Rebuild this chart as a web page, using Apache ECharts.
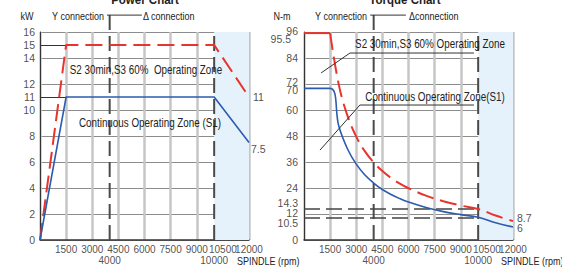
<!DOCTYPE html>
<html>
<head>
<meta charset="utf-8">
<script src="https://cdn.jsdelivr.net/npm/echarts@6/dist/echarts.min.js"></script>
<style>
html, body { margin: 0; padding: 0; background: #fff; }
#main { width: 562px; height: 274px; }
</style>
</head>
<body>
<div id="main"></div>
<script>
var speedTicks = [1500, 3000, 4500, 6000, 7500, 9000, 10500, 12000];
var speedMarks = [4000, 10000];
var powerTicks = [0, 2, 4, 6, 8, 10, 11, 12, 14, 15, 16];
var torqueTicks = [0, 10.5, 12, 14.3, 24, 36, 48, 60, 70, 72, 84, 95.5, 96];

var powerS2 = [[0, 0], [1500, 15], [10000, 15], [12000, 11]];
var powerS1 = [[0, 0], [1500, 11], [10000, 11], [12000, 7.5]];
var powerEnds = [[12000, 11], [12000, 7.5]];

var torqueS2Flat = [[0, 95.5], [1500, 95.5]];
var torqueS2 = [[1500, 95.5], [2000, 71.6], [2500, 57.3], [3000, 47.7], [3500, 40.9], [4000, 35.8],
    [4500, 31.8], [5000, 28.6], [5500, 26.0], [6000, 23.9], [7000, 20.5], [8000, 17.9],
    [9000, 15.9], [10000, 14.3], [11000, 11.3], [12000, 8.7]];
var torqueS1 = [[0, 70], [1500, 70], [2000, 52.5], [2500, 42], [3000, 35], [3500, 30], [4000, 26.3],
    [4500, 23.3], [5000, 21], [5500, 19.1], [6000, 17.5], [7000, 15], [8000, 13.1],
    [9000, 11.7], [10000, 10.5], [11000, 8.0], [12000, 6]];
var torqueEnds = [[12000, 8.7], [12000, 6]];
var torqueRefs = [14.3, 10.5];

var FONT = '"Liberation Sans", Arial, sans-serif';
var RED = '#e8342c', BLUE = '#2b5cad', INK = '#222';

// label nudges for crowded tick labels
var torqueNudge = { '96': [0, -1], '95.5': [-7, 6], '72': [0, -2], '70': [0, 2], '14.3': [0, -6], '12': [0, -1], '10.5': [0, 6] };

function labelSeries(idx, pts, pos, dist, size, fmt, offs) {
    return {
        type: 'scatter', xAxisIndex: idx, yAxisIndex: idx, symbolSize: 0, silent: true, z: 10,
        data: pts.map(function(p, i) {
            return { value: p, label: { offset: offs ? offs(p, i) : [0, 0] } };
        }),
        label: {
            show: true, position: pos, distance: dist, color: INK, fontSize: size, fontFamily: FONT,
            formatter: fmt
        }
    };
}

function yTicks(idx, ticks, nudge, dist) {
    return labelSeries(idx, ticks.map(function(v) { return [0, v]; }), 'left', dist, 10.5,
        function(p) { return p.value[1]; },
        function(p) { return nudge[p[1]] || [0, 0]; });
}

function xTicks(idx, ticks, dist) {
    return labelSeries(idx, ticks.map(function(v) { return [v, 0]; }), 'bottom', dist, 10,
        function(p) { return p.value[0]; });
}

function endLabels(idx, pts, offs) {
    return labelSeries(idx, pts, 'right', 4, 10.5,
        function(p) { return p.value[1]; },
        function(p, i) { return offs[i]; });
}

function dashV(idx, x, top) {
    return {
        type: 'line', xAxisIndex: idx, yAxisIndex: idx, clip: false, symbol: 'none', silent: true, z: 3,
        data: [[x, 0], [x, top]],
        lineStyle: { color: '#4a4a4a', width: 2, type: [15, 6] }
    };
}

function pointer(idx, coords) {
    return {
        type: 'lines', coordinateSystem: 'cartesian2d', xAxisIndex: idx, yAxisIndex: idx,
        polyline: true, clip: false, silent: true, z: 6,
        symbol: ['none', 'arrow'], symbolSize: 6,
        lineStyle: { color: '#333', width: 1, opacity: 1 },
        data: [{ coords: coords }]
    };
}

function xAxisOpt(idx) {
    return {
        type: 'value', gridIndex: idx, min: 0, max: 12000, interval: 1500,
        axisLine: { lineStyle: { color: '#333', width: 1.5 } },
        axisTick: { show: false },
        axisLabel: { show: false },
        splitLine: { lineStyle: { color: '#c6c6c6', width: 2.5 } }
    };
}

function yAxisOpt(idx, max, step) {
    return {
        type: 'value', gridIndex: idx, min: 0, max: max, interval: step,
        axisLine: { show: true, lineStyle: { color: '#333', width: 1 } },
        axisTick: { show: false },
        axisLabel: { show: false },
        splitLine: { lineStyle: { color: '#8c8c8c', width: 1 } }
    };
}

// condensed text: the sheet uses a narrow face, so squeeze horizontally
function txt(x, y, s, size, align, sx, bold) {
    return {
        type: 'text', x: x, y: y, scaleX: sx || 0.82, silent: true, z: 20,
        style: {
            text: s, fill: INK, font: (bold ? 'bold ' : '') + size + 'px ' + FONT,
            textAlign: align || 'center', textVerticalAlign: 'middle'
        }
    };
}

var chart = echarts.init(document.getElementById('main'), null, { renderer: 'svg' });

var option = {
    animation: false,
    backgroundColor: '#fff',
    grid: [
        { left: 40, top: 32, width: 209, height: 208 },
        { left: 304, top: 32, width: 209, height: 208 }
    ],
    xAxis: [xAxisOpt(0), xAxisOpt(1)],
    yAxis: [yAxisOpt(0, 16, 2), yAxisOpt(1, 96, 12)],
    graphic: [
        txt(145, 0, 'Power Chart', 12.5, 'center', 0.92, true),
        txt(405, 0, 'Torque Chart', 12.5, 'center', 0.92, true),
        txt(27, 16, 'kW', 11),
        txt(282, 16, 'N-m', 11),
        txt(104, 16, 'Y connection', 11, 'right'),
        txt(143, 16, '\u0394 connection', 11, 'left'),
        txt(367, 16, 'Y connection', 11, 'right'),
        txt(409, 16, '\u0394connection', 11, 'left'),
        txt(237, 261, 'SPINDLE (rpm)', 11, 'left'),
        txt(501, 261, 'SPINDLE (rpm)', 11, 'left'),
        txt(146, 70, 'S2 30min,S3 60%  Operating Zone', 12),
        txt(150, 123, 'Continuous Operating Zone (S1)', 12),
        txt(430, 44, 'S2 30min,S3 60% Operating Zone', 12),
        txt(435, 97, 'Continuous Operating Zone(S1)', 12)
    ],
    series: [
        // power chart
        {
            type: 'line', xAxisIndex: 0, yAxisIndex: 0, symbol: 'none', silent: true, z: 1,
            data: [], markArea: { silent: true, itemStyle: { color: '#e5f2fc' }, data: [[{ xAxis: 10000 }, { xAxis: 12000 }]] }
        },
        {
            type: 'line', xAxisIndex: 0, yAxisIndex: 0, symbol: 'none', silent: true, z: 2,
            data: [], markLine: {
                silent: true, symbol: 'none', label: { show: false },
                lineStyle: { color: '#333', width: 1, type: 'solid' },
                data: [[{ coord: [0, 15] }, { coord: [1500, 15] }], [{ coord: [0, 11] }, { coord: [1500, 11] }]]
            }
        },
        dashV(0, 4000, 17.6),
        dashV(0, 10000, 16),
        pointer(0, [[3850, 17.3], [5850, 17.3]]),
        { type: 'line', xAxisIndex: 0, yAxisIndex: 0, symbol: 'none', silent: true, z: 5, data: powerS2, lineStyle: { color: RED, width: 2, type: [17, 7] } },
        { type: 'line', xAxisIndex: 0, yAxisIndex: 0, symbol: 'none', silent: true, z: 5, data: powerS1, lineStyle: { color: BLUE, width: 1.6 } },
        yTicks(0, powerTicks, {}, 5),
        xTicks(0, speedTicks, 4),
        xTicks(0, speedMarks, 15),
        endLabels(0, powerEnds, [[0, 0], [-2, 6]]),

        // torque chart
        {
            type: 'line', xAxisIndex: 1, yAxisIndex: 1, symbol: 'none', silent: true, z: 1,
            data: [], markArea: { silent: true, itemStyle: { color: '#e5f2fc' }, data: [[{ xAxis: 10000 }, { xAxis: 12000 }]] }
        },
        {
            type: 'line', xAxisIndex: 1, yAxisIndex: 1, symbol: 'none', silent: true, z: 2,
            data: [], markLine: {
                silent: true, symbol: 'none', label: { show: false },
                lineStyle: { color: '#444', width: 1.5, type: [16, 6] },
                data: torqueRefs.map(function(v) { return [{ coord: [0, v] }, { coord: [10000, v] }]; })
            }
        },
        dashV(1, 4000, 105.5),
        dashV(1, 10000, 96),
        pointer(1, [[3800, 103.8], [5850, 103.8]]),
        pointer(1, [[9760, 86.3], [2640, 86.3], [980, 77.1]]),
        pointer(1, [[9760, 62.3], [3210, 62.3], [920, 41.5]]),
        { type: 'line', xAxisIndex: 1, yAxisIndex: 1, symbol: 'none', silent: true, z: 5, data: torqueS2Flat, lineStyle: { color: RED, width: 2 } },
        { type: 'line', xAxisIndex: 1, yAxisIndex: 1, symbol: 'none', silent: true, z: 5, smooth: 0.4, data: torqueS2, lineStyle: { color: RED, width: 2, type: [17, 7] } },
        { type: 'line', xAxisIndex: 1, yAxisIndex: 1, symbol: 'none', silent: true, z: 5, smooth: 0.4, data: torqueS1, lineStyle: { color: BLUE, width: 1.6 } },
        yTicks(1, torqueTicks, torqueNudge, 6),
        xTicks(1, speedTicks, 4),
        xTicks(1, speedMarks, 15),
        endLabels(1, torqueEnds, [[0, -3], [0, 1]])
    ]
};

chart.setOption(option);
</script>
</body>
</html>
